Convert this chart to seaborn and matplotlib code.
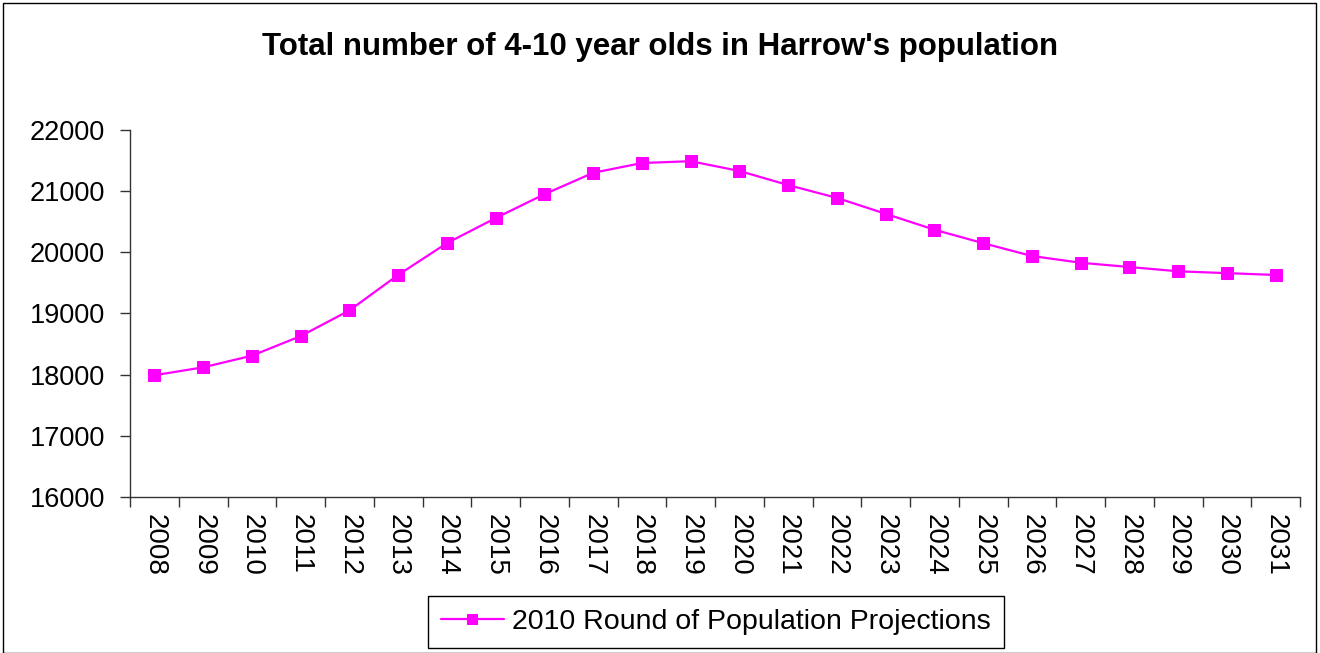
import seaborn as sns
import pandas as pd
import matplotlib.pyplot as plt
from matplotlib.patches import Rectangle

years = [str(y) for y in range(2008, 2032)]
population = [17990, 18120, 18310, 18630, 19050, 19630, 20150, 20560, 20950, 21300,
              21460, 21490, 21330, 21100, 20890, 20630, 20370, 20150, 19940, 19830,
              19760, 19690, 19660, 19630]
series_name = "2010 Round of Population Projections"

df = pd.DataFrame({"pos": range(len(years)), "year": years, "value": population})

sns.set_style("white")
plt.rcParams['font.family'] = ['Liberation Sans', 'DejaVu Sans']
plt.rcParams['text.color'] = 'black'
plt.rcParams['xtick.color'] = 'black'
plt.rcParams['ytick.color'] = 'black'

fig = plt.figure(figsize=(13.2, 6.53), dpi=100)
ax = fig.add_axes([130 / 1320, 1 - 497 / 653, 1170 / 1320, 367 / 653])

sns.lineplot(data=df, x="pos", y="value", ax=ax, color="#FF00FF", linewidth=1.6,
             marker="s", markersize=9, markeredgecolor="#FF00FF", label=series_name)

ax.set_xlim(-0.5, len(years) - 0.5)
ax.set_ylim(16000, 22000)
ax.set_yticks(range(16000, 22001, 1000))
ax.set_yticklabels([str(v) for v in range(16000, 22001, 1000)], fontsize=19.5)

# ticks between categories, labels in the middle
ax.set_xticks([i - 0.5 for i in range(len(years) + 1)])
ax.set_xticklabels([])
ax.set_xticks(list(range(len(years))), minor=True)
ax.set_xticklabels(years, minor=True, rotation=-90, fontsize=20)
ax.tick_params(axis="x", which="major", bottom=True, direction="out", length=7, width=1,
               color="#333333")
ax.tick_params(axis="x", which="minor", bottom=True, length=0, pad=12, labelcolor="black")
ax.tick_params(axis="y", left=True, direction="out", length=7, width=1, color="#333333",
               pad=11, labelcolor="black")
ax.set_xlabel("")
ax.set_ylabel("")

for side in ["top", "right"]:
    ax.spines[side].set_visible(False)
for side in ["left", "bottom"]:
    ax.spines[side].set_color("#333333")
    ax.spines[side].set_linewidth(1)

fig.text(0.5, 1 - 47 / 653, "Total number of 4-10 year olds in Harrow's population",
         ha="center", va="center", fontsize=22.5, fontweight="bold", color="black")

leg = ax.legend(loc="center", bbox_to_anchor=(716 / 1320, 1 - 622 / 653),
                bbox_transform=fig.transFigure, fontsize=20.5, frameon=True, fancybox=False,
                edgecolor="black", framealpha=1, handlelength=2.2, handletextpad=0.3,
                borderpad=0.45, markerscale=0.85)
leg.get_frame().set_linewidth(1)
for t in leg.get_texts():
    t.set_color("black")

fig.patches.append(Rectangle((3 / 1320, 0), 1313 / 1320, 1 - 3 / 653, transform=fig.transFigure,
                             fill=False, edgecolor="black", linewidth=1))

fig.savefig("out.png", dpi=100)
